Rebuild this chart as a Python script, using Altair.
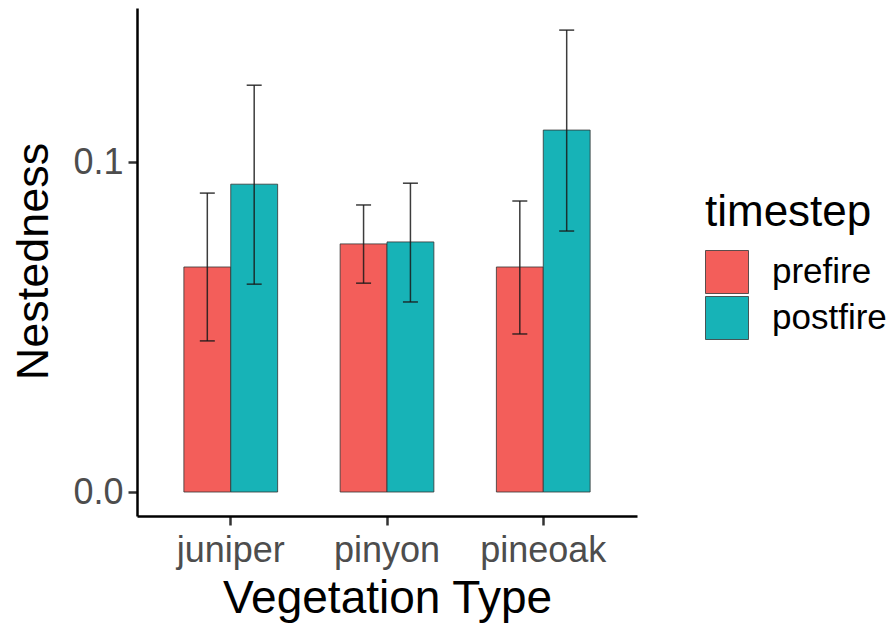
import altair as alt
import pandas as pd

vegetation = ["juniper", "juniper", "pinyon", "pinyon", "pineoak", "pineoak"]
timestep = ["prefire", "postfire", "prefire", "postfire", "prefire", "postfire"]
nestedness = [0.0682, 0.0933, 0.0752, 0.0758, 0.0682, 0.1097]
lower = [0.0458, 0.0630, 0.0633, 0.0576, 0.0479, 0.0791]
upper = [0.0906, 0.1233, 0.0870, 0.0936, 0.0882, 0.1400]

veg_order = ["juniper", "pinyon", "pineoak"]
time_order = ["prefire", "postfire"]
colors = ["#F35E5A", "#17B3B7"]

df = pd.DataFrame({
    "veg": vegetation,
    "timestep": timestep,
    "nest": nestedness,
    "lower": lower,
    "upper": upper,
})

FONT = "Liberation Sans"

x_enc = alt.X(
    "veg:N",
    sort=veg_order,
    scale=alt.Scale(paddingInner=0.4, paddingOuter=0.3),
    axis=alt.Axis(
        title="Vegetation Type",
        labelAngle=0,
        labelFontSize=36,
        labelColor="#4D4D4D",
        labelPadding=8,
        labelFont=FONT,
        tickSize=9,
        tickWidth=2.5,
        tickColor="#333333",
        domainColor="black",
        domainWidth=2.5,
        titleFontSize=46,
        titleFont=FONT,
        titleFontWeight="normal",
        titleColor="black",
        titleX=250,
        titleY=96,
        titleBaseline="alphabetic",
        titleAlign="center",
    ),
)

y_axis = alt.Axis(
    title="Nestedness",
    values=[0.0, 0.1],
    format=".1f",
    grid=False,
    labelFontSize=36,
    labelColor="#4D4D4D",
    labelPadding=5,
    labelFont=FONT,
    tickSize=9,
    tickWidth=2.5,
    tickColor="#333333",
    domainColor="black",
    domainWidth=2.5,
    titleFontSize=45,
    titleFont=FONT,
    titleFontWeight="normal",
    titleColor="black",
    titleAngle=-90,
    titleX=-90,
    titleY=253,
    titleBaseline="alphabetic",
    titleAlign="center",
)
y_scale = alt.Scale(domain=[-0.00727, 0.1467], nice=False, zero=False)

xoff = alt.XOffset("timestep:N", sort=time_order,
                   scale=alt.Scale(paddingInner=0, paddingOuter=0))

bars = alt.Chart(df).mark_bar(stroke="#333333", strokeWidth=0.8).encode(
    x=x_enc,
    xOffset=xoff,
    y=alt.Y("nest:Q", scale=y_scale, axis=y_axis),
    y2=alt.datum(0),
    fill=alt.Fill(
        "timestep:N",
        sort=time_order,
        scale=alt.Scale(domain=time_order, range=colors),
        legend=alt.Legend(
            title="timestep",
            orient="none",
            legendX=568,
            legendY=183,
            symbolType="square",
            symbolSize=1849,
            symbolStrokeColor="#333333",
            symbolStrokeWidth=0.8,
            symbolOpacity=1,
            labelFontSize=35,
            labelFont=FONT,
            labelColor="black",
            labelOffset=23,
            titleFontSize=44,
            titleFont=FONT,
            titleFontWeight="normal",
            titleColor="black",
            titlePadding=15,
            rowPadding=-4,
            padding=0,
        ),
    ),
)

rules = alt.Chart(df).mark_rule(color="#1a1a1a", strokeWidth=1.5, opacity=0.85).encode(
    x=alt.X("veg:N", sort=veg_order),
    xOffset=xoff,
    y=alt.Y("lower:Q", scale=y_scale, axis=y_axis),
    y2="upper:Q",
)

caps_top = alt.Chart(df).mark_tick(color="#1a1a1a", thickness=1.5, size=15, opacity=0.85).encode(
    x=alt.X("veg:N", sort=veg_order),
    xOffset=xoff,
    y=alt.Y("upper:Q", scale=y_scale, axis=y_axis),
)

caps_bot = alt.Chart(df).mark_tick(color="#1a1a1a", thickness=1.5, size=15, opacity=0.85).encode(
    x=alt.X("veg:N", sort=veg_order),
    xOffset=xoff,
    y=alt.Y("lower:Q", scale=y_scale, axis=y_axis),
)

chart = alt.layer(bars, rules, caps_top, caps_bot).properties(
    width=500,
    height=508,
    autosize=alt.AutoSizeParams(type="none"),
    padding={"left": 137, "top": 8, "right": 257, "bottom": 114},
).configure(background="white").configure_view(stroke="transparent", strokeWidth=0)

chart.save("out.html", embed_options={"renderer": "svg", "actions": False})
